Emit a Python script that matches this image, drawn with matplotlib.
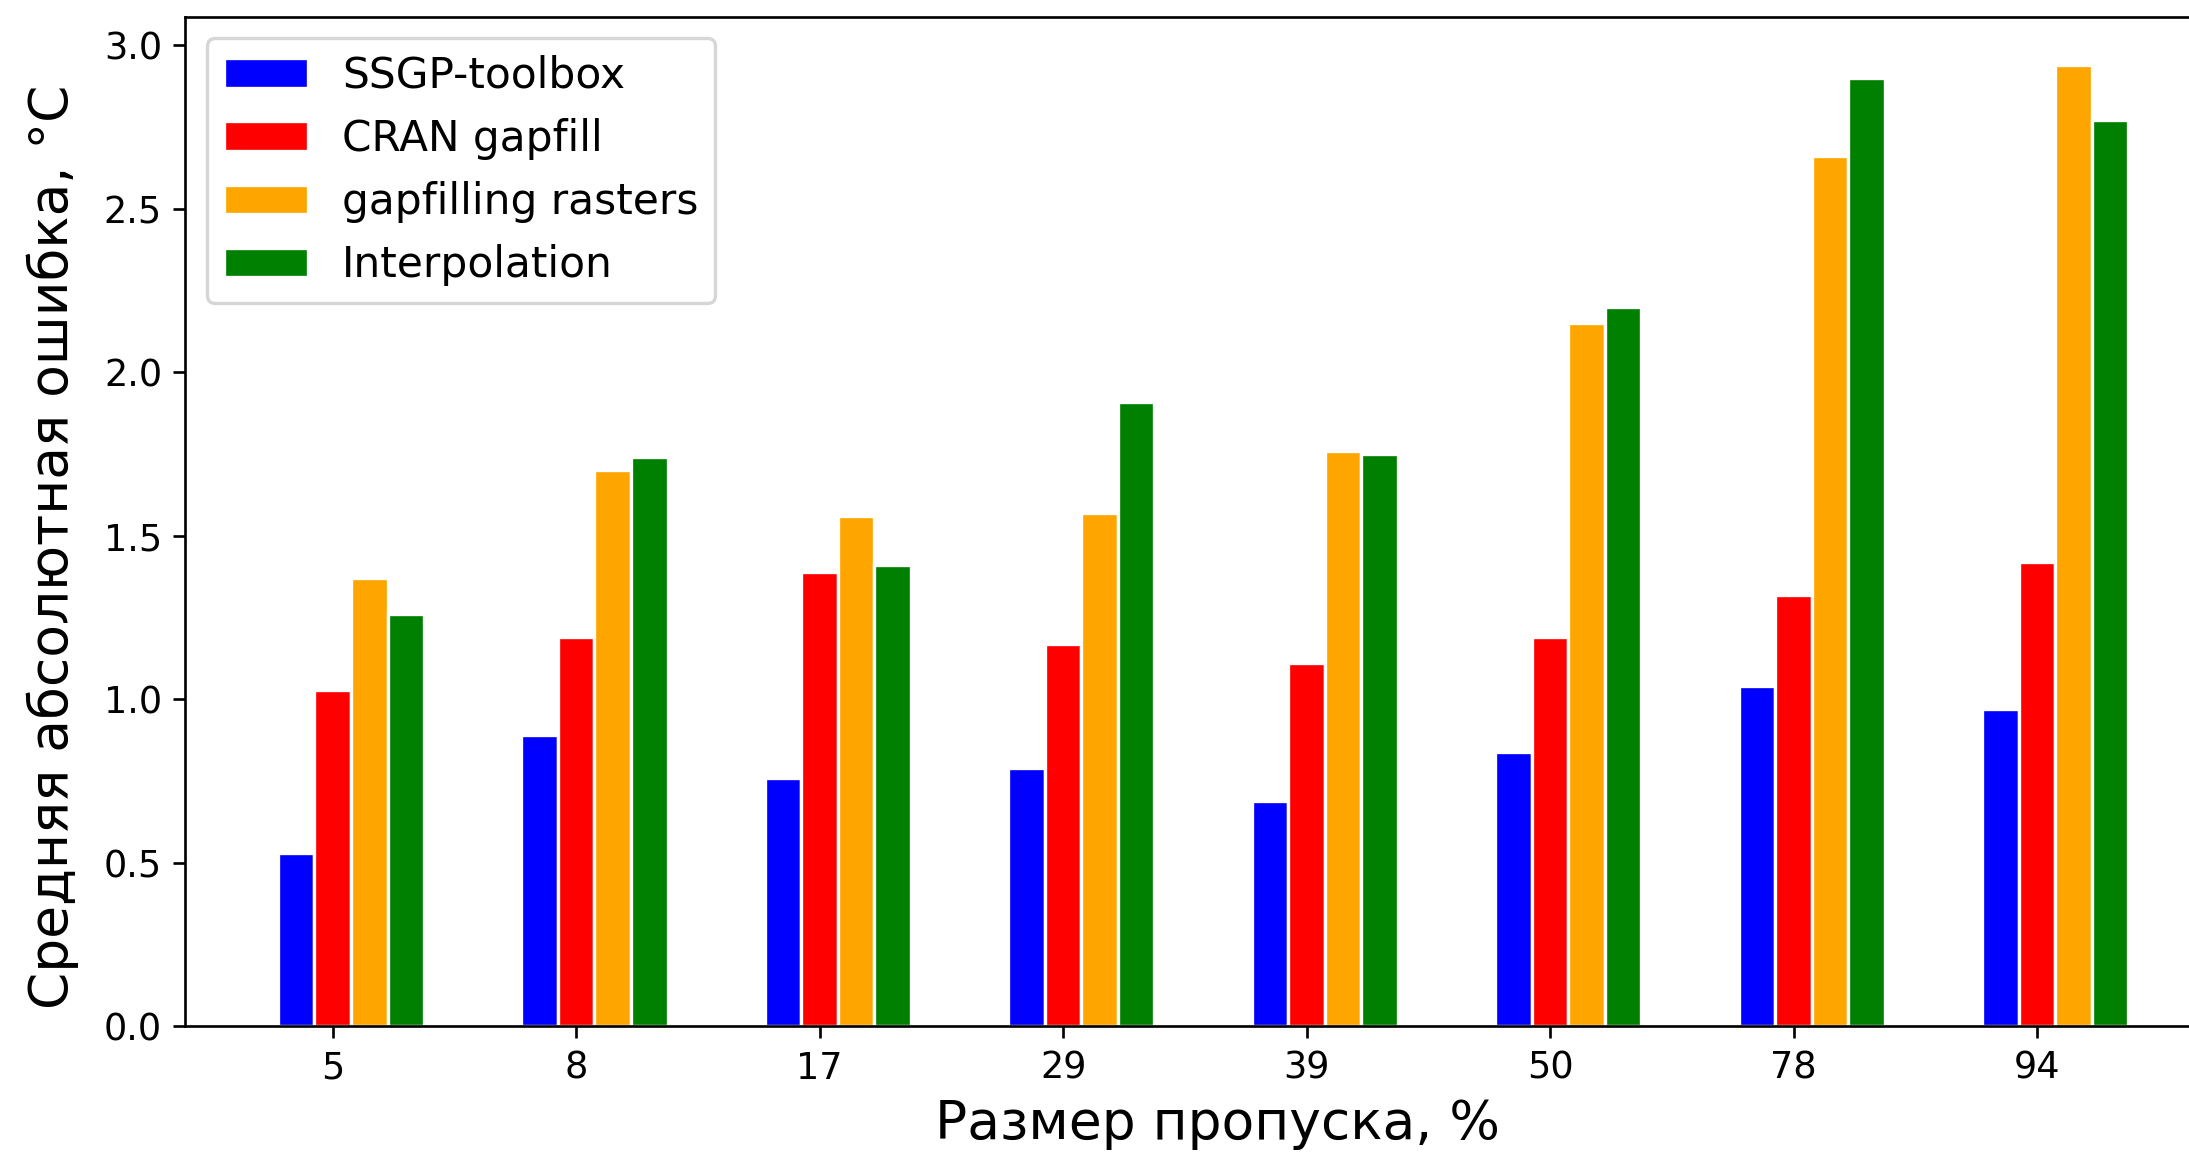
import matplotlib
matplotlib.use("Agg")
import matplotlib.pyplot as plt
import numpy as np

# Gap sizes, % (x categories)
gap_sizes = ["5", "8", "17", "29", "39", "50", "78", "94"]

# Mean absolute error, °C, per method
ssgp_toolbox = [0.53, 0.89, 0.76, 0.79, 0.69, 0.84, 1.04, 0.97]
cran_gapfill = [1.03, 1.19, 1.39, 1.17, 1.11, 1.19, 1.32, 1.42]
gapfilling_rasters = [1.37, 1.70, 1.56, 1.57, 1.76, 2.15, 2.66, 2.94]
interpolation = [1.26, 1.74, 1.41, 1.91, 1.75, 2.20, 2.90, 2.77]

series_names = ["SSGP-toolbox", "CRAN gapfill", "gapfilling rasters", "Interpolation"]
series_values = [ssgp_toolbox, cran_gapfill, gapfilling_rasters, interpolation]
series_colors = ["blue", "red", "orange", "green"]

DPI = 240
fig = plt.figure(figsize=(2189 / DPI, 1155 / DPI), dpi=DPI)
# axes deliberately run slightly past the right edge of the canvas
ax = fig.add_axes([0.0847, 0.1113, 0.9299, 0.8742])

x = np.arange(len(gap_sizes))
width = 0.15
for i, (name, vals, col) in enumerate(zip(series_names, series_values, series_colors)):
    ax.bar(x + (i - 1) * width, vals, width, label=name, color=col,
           edgecolor="white", linewidth=1.0)

ax.set_xticks(x)
ax.set_xticklabels(gap_sizes)
ax.set_xlim(-0.605, 7.755)
ax.set_ylim(0, 3.087)
ax.set_yticks([0.0, 0.5, 1.0, 1.5, 2.0, 2.5, 3.0])
ax.tick_params(labelsize=11)

ax.set_xlabel("Размер пропуска, %", fontsize=16, va="baseline")
ax.xaxis.set_label_coords(1218 / 2189, 16 / 1155, transform=fig.transFigure)
ax.set_ylabel("Средняя абсолютная ошибка, °C", fontsize=16, va="center")
ax.yaxis.set_label_coords(53 / 2189, 608 / 1155, transform=fig.transFigure)

ax.legend(loc="upper left", fontsize=12.7)

fig.savefig("out.png", dpi=DPI)
